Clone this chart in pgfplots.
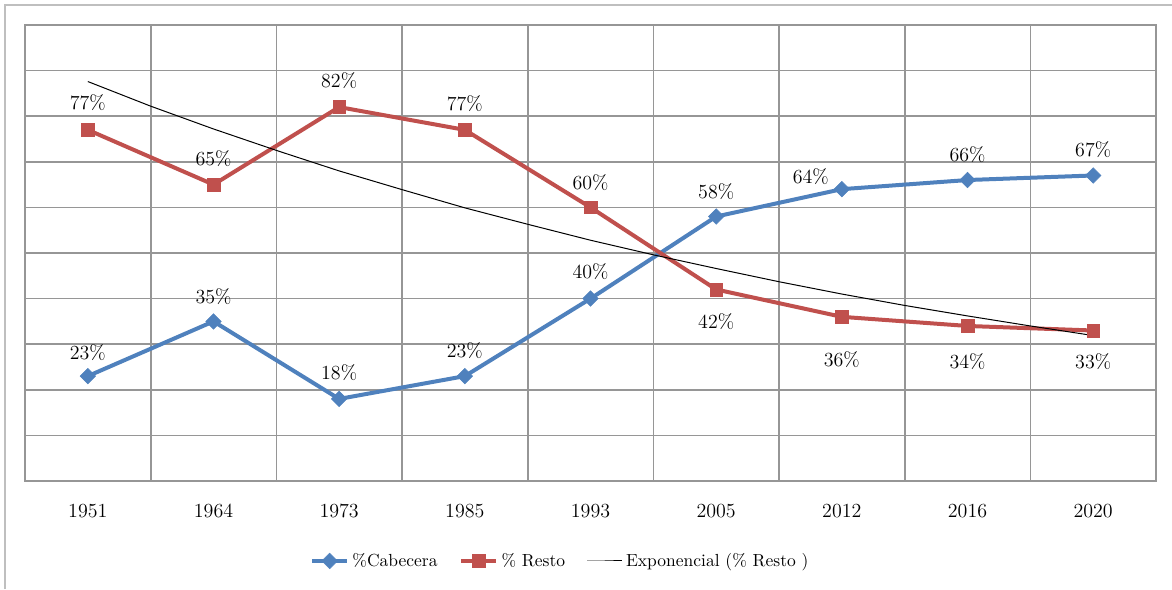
\documentclass[border=0pt]{standalone}
\usepackage{pgfplots}
\pgfplotsset{compat=1.18}
\usepackage{pgfplotstable}
\definecolor{cblue}{HTML}{4F81BD}
\definecolor{cred}{HTML}{C0504D}
\definecolor{gridc}{HTML}{969696}
\definecolor{framec}{HTML}{BFBFBF}

\pgfplotstableread{
x y dx dy
0 23 0 14.4
1 35 0 15
2 18 0 15.6
3 23 0 15.6
4 40 0 16.2
5 58 0 15
6 64 -18.6 7.8
7 66 0 15
8 67 0 15.6
}\cabecera
\pgfplotstableread{
x y dx dy
0 77 0 16.2
1 65 0 15.6
2 82 0 16.2
3 77 0 15.6
4 60 0 15
5 42 0 -19.2
6 36 0 -25.8
7 34 0 -21.6
8 33 0 -18.6
}\resto
\pgfplotstableread{
x y
0 87.6
0.5 82.2
1 77.2
1.5 72.5
2 68.0
2.5 63.9
3 59.9
3.5 56.3
4 52.8
4.5 49.6
5 46.6
5.5 43.7
6 41.0
6.5 38.5
7 36.2
7.5 34.0
8 31.9
}\trend

\begin{document}
\begin{tikzpicture}
\useasboundingbox (0,0) rectangle (703.2pt,353.4pt);
\draw[framec, line width=0.8pt] (3pt,0) -- (3pt,350.4pt) -- (703.2pt,350.4pt);
\begin{axis}[
  at={(15pt,64.8pt)}, anchor=south west,
  scale only axis, width=678.6pt, height=273.6pt,
  xmin=-0.5, xmax=8.5, ymin=0, ymax=100,
  xtick={0,...,8},
  xticklabels={1951,1964,1973,1985,1993,2005,2012,2016,2020},
  ytick={0,10,...,100}, yticklabels={},
  minor xtick={-0.5,0.5,...,8.5},
  xminorgrids, ymajorgrids,
  major tick length=0pt, minor tick length=0pt,
  axis line style={gridc, line width=1pt},
  grid style={gridc, line width=1pt},
  minor grid style={gridc, line width=1pt},
  xticklabel style={font=\fontsize{12}{14}\selectfont, yshift=-10.2pt},
  clip=false,
  legend columns=3,
  legend style={at={(0.2521,-0.1754)}, anchor=west, draw=none, fill=none,
    inner sep=0pt, outer sep=0pt, font=\fontsize{10.5}{12}\selectfont,
    /tikz/every even column/.append style={column sep=11pt}},
  legend image code/.code={\draw[mark repeat=2,mark phase=2,#1] plot coordinates {(0pt,0pt) (10.5pt,0pt) (21pt,0pt)};},
  legend cell align=left,
]
\addplot[cblue, line width=2.4pt, mark=square*, mark size=3.3pt,
  mark options={solid, rotate=45, line width=0.3pt},
  point meta=y,
  nodes near coords={\pgfmathprintnumber{\pgfplotspointmeta}\%},
  visualization depends on={\thisrow{dx}\as\dx},
  visualization depends on={\thisrow{dy}\as\dy},
  every node near coord/.append style={anchor=center, xshift=\dx pt, yshift=\dy pt, text=black, font=\fontsize{12}{14}\selectfont}]
  table[x=x,y=y]{\cabecera};
\addlegendentry{\%Cabecera}
\addplot[cred, line width=2.4pt, mark=square*, mark size=3.8pt,
  mark options={solid, line width=0.3pt},
  point meta=y,
  nodes near coords={\pgfmathprintnumber{\pgfplotspointmeta}\%},
  visualization depends on={\thisrow{dx}\as\dx},
  visualization depends on={\thisrow{dy}\as\dy},
  every node near coord/.append style={anchor=center, xshift=\dx pt, yshift=\dy pt, text=black, font=\fontsize{12}{14}\selectfont}]
  table[x=x,y=y]{\resto};
\addlegendentry{\% Resto}
\addplot[black, line width=0.6pt, no marks] table[x=x,y=y]{\trend};
\addlegendentry{Exponencial (\% Resto )}
\end{axis}
\end{tikzpicture}
\end{document}
